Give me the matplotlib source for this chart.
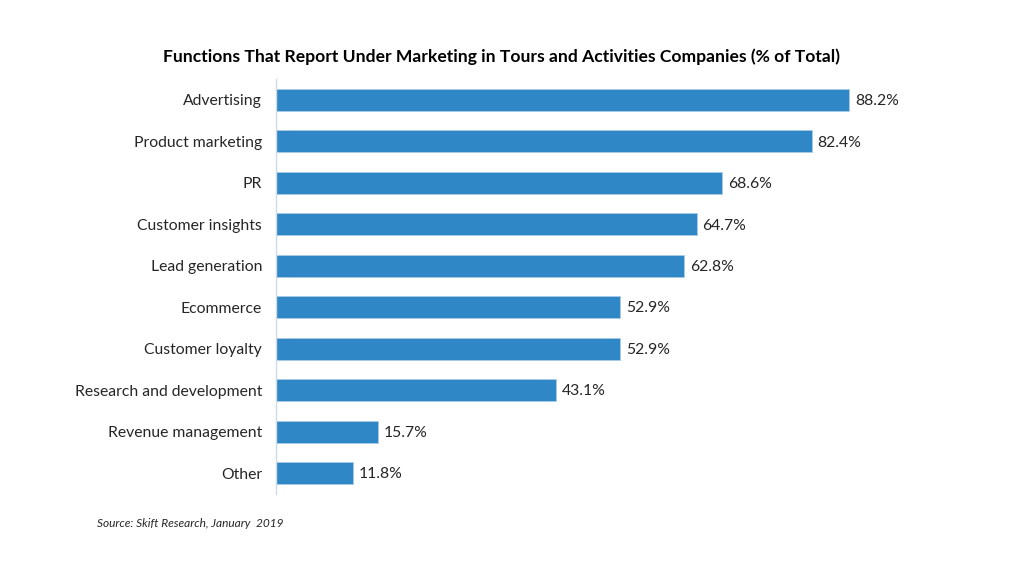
import matplotlib.pyplot as plt

plt.rcParams['font.family'] = ['Lato', 'DejaVu Sans']

# Data
categories = ['Advertising', 'Product marketing', 'PR', 'Customer insights',
              'Lead generation', 'Ecommerce', 'Customer loyalty',
              'Research and development', 'Revenue management', 'Other']
values = [88.2, 82.4, 68.6, 64.7, 62.8, 52.9, 52.9, 43.1, 15.7, 11.8]

bar_color = '#3087C5'

fig = plt.figure(figsize=(10.24, 5.76), dpi=100)
fig.patch.set_facecolor('white')
ax = fig.add_axes([0.2695, 0.1428, 0.635, 0.7196])

pos = list(range(len(categories)))
ax.barh(pos, values, height=0.53, color=bar_color, edgecolor='#A9CBE6', linewidth=0.6)
ax.set_yticks(pos)
ax.set_yticklabels(categories, fontsize=11.3, color='#262626')
ax.invert_yaxis()
ax.set_ylim(len(categories) - 0.5, -0.5)
ax.set_xlim(0, 100)

for p, v in zip(pos, values):
    ax.text(v + 0.9, p + 0.03, f'{v:.1f}%', va='center', ha='left', fontsize=11.3, color='#262626')

for side in ['top', 'right', 'bottom']:
    ax.spines[side].set_visible(False)
ax.spines['left'].set_color('#CFDCE8')
ax.spines['left'].set_linewidth(1.0)
ax.tick_params(axis='y', length=0, pad=10)
ax.set_xticks([])

fig.text(0.49, 0.902, 'Functions That Report Under Marketing in Tours and Activities Companies (% of Total)',
         ha='center', va='center', fontsize=12.6, fontweight='bold', color='black')
fig.text(0.095, 0.092, 'Source: Skift Research, January  2019',
         ha='left', va='center', fontsize=8.6, style='italic', color='#262626')

fig.savefig('out.png', dpi=100, facecolor='white')
